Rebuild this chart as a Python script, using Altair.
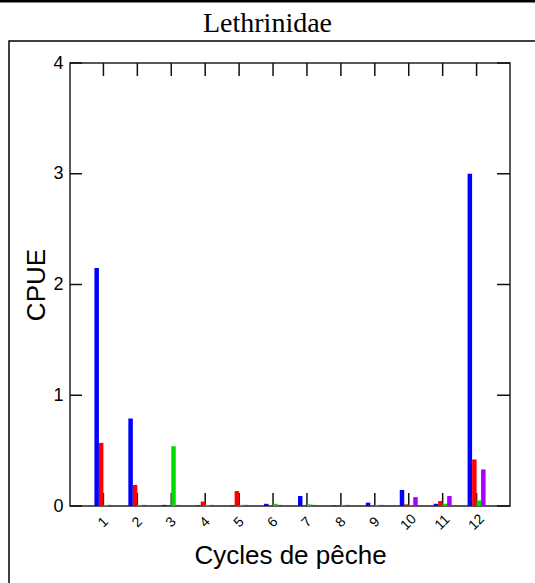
import altair as alt
import pandas as pd

cycles = ["1", "2", "3", "4", "5", "6", "7", "8", "9", "10", "11", "12"]
series = ["A", "B", "C", "D"]
blue = [2.15, 0.79, 0.01, 0.005, 0.005, 0.02, 0.09, 0.005, 0.03, 0.145, 0.02, 3.0]
red = [0.57, 0.19, 0.005, 0.04, 0.135, 0.005, 0.005, 0.005, 0.005, 0.015, 0.045, 0.42]
green = [0.01, 0.01, 0.54, 0.01, 0.01, 0.02, 0.015, 0.01, 0.01, 0.005, 0.02, 0.05]
purple = [0.01, 0.01, 0.01, 0.01, 0.01, 0.01, 0.01, 0.01, 0.01, 0.08, 0.09, 0.33]
colors = ["#0000FF", "#FF0000", "#00DD00", "#AA00FF"]
y_ticks = [0, 1, 2, 3, 4]

rows = []
for s, vals in zip(series, [blue, red, green, purple]):
    for c, v in zip(cycles, vals):
        rows.append({"cycle": c, "serie": s, "cpue": v})
df = pd.DataFrame(rows)
cyc_df = pd.DataFrame({"cycle": cycles})
yt_df = pd.DataFrame({"v": y_ticks})
one = pd.DataFrame({"t": ["Lethrinidae"]})

W, H = 440, 443
FONT = "Liberation Sans"

xscale = alt.Scale(domain=cycles, paddingInner=0.47, paddingOuter=0.72)
yscale = alt.Scale(domain=[0, 4], nice=False)

xaxis = alt.Axis(title="Cycles de pêche", labelAngle=-45, labelAlign="center",
                 labelBaseline="middle", labelPadding=16, ticks=False, domain=False,
                 labelFont=FONT, labelFontSize=14, labelColor="black",
                 titleFont=FONT, titleFontSize=26, titleFontWeight="normal",
                 titleColor="black", titlePadding=10, grid=False)
yaxis = alt.Axis(title="CPUE", values=y_ticks, format="d", ticks=False, domain=False, grid=False,
                 labelPadding=7, labelFont=FONT, labelFontSize=18, labelColor="black",
                 titleFont=FONT, titleFontSize=26, titleFontWeight="normal",
                 titleColor="black", titlePadding=3)

bars = alt.Chart(df).mark_bar(size=4.5).encode(
    x=alt.X("cycle:N", scale=xscale, axis=xaxis, sort=cycles),
    xOffset=alt.XOffset("serie:N", sort=series, scale=alt.Scale(paddingInner=0, paddingOuter=0)),
    y=alt.Y("cpue:Q", scale=yscale, axis=yaxis),
    color=alt.Color("serie:N", scale=alt.Scale(domain=series, range=colors), legend=None),
)

tick_style = dict(color="#111", strokeWidth=1.5)
top_ticks = alt.Chart(cyc_df).mark_rule(**tick_style).encode(
    x=alt.X("cycle:N", sort=cycles), y=alt.value(0), y2=alt.value(13))
bot_ticks = alt.Chart(cyc_df).mark_rule(**tick_style).encode(
    x=alt.X("cycle:N", sort=cycles), y=alt.value(H - 13), y2=alt.value(H))
left_ticks = alt.Chart(yt_df).mark_rule(**tick_style).encode(
    y=alt.Y("v:Q"), x=alt.value(0), x2=alt.value(12))
right_ticks = alt.Chart(yt_df).mark_rule(**tick_style).encode(
    y=alt.Y("v:Q"), x=alt.value(W - 13), x2=alt.value(W))

frame = alt.Chart(one).mark_rect(fillOpacity=0, stroke="black", strokeWidth=1.5).encode(
    x=alt.value(-61), y=alt.value(-22), x2=alt.value(600), y2=alt.value(600))
top_line = alt.Chart(one).mark_rule(color="black", strokeWidth=3).encode(
    x=alt.value(-80), x2=alt.value(600), y=alt.value(-62))
title = alt.Chart(one).mark_text(font="Liberation Serif", fontSize=28, align="center",
                                 baseline="alphabetic", color="black").encode(
    text="t:N", x=alt.value(197.5), y=alt.value(-31))

chart = alt.layer(frame, top_line, title, top_ticks, bot_ticks, left_ticks, right_ticks, bars).properties(
    width=W, height=H,
    autosize=alt.AutoSizeParams(type="none"),
    padding={"left": 70, "top": 63, "right": 25, "bottom": 77},
).configure(background="white").configure_view(stroke="#222", strokeWidth=1.5)

chart.save("out.html", embed_options={"renderer": "svg", "actions": False})
